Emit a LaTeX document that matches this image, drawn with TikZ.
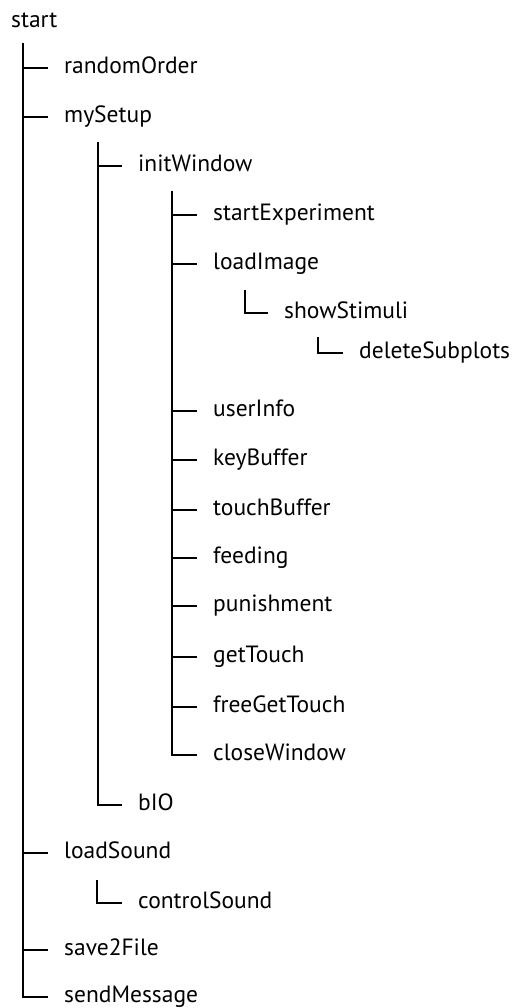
\documentclass[tikz,border=0pt]{standalone}
\usepackage{fontspec}
\setmainfont{PT Sans}
\begin{document}
\begin{tikzpicture}[x=1pt,y=-1pt,
  item/.style={anchor=west,inner xsep=16pt,inner ysep=0pt,text height=11.8pt,text depth=0pt,font=\fontsize{23.5}{27}\selectfont},
  tree/.style={line width=2.4pt,line cap=butt,line join=miter}]
\useasboundingbox[fill=white] (0,0) rectangle (512,1008);
% nodes
\node[item] (start) at (-5,22) {start};
\node[item] (randomOrder) at (48,68) {randomOrder};
\node[item] (mySetup) at (48,117) {mySetup};
\node[item] (initWindow) at (122,166) {initWindow};
\node[item] (startExperiment) at (197,215) {startExperiment};
\node[item] (loadImage) at (197,264) {loadImage};
\node[item] (showStimuli) at (268,313) {showStimuli};
\node[item] (deleteSubplots) at (343,353) {deleteSubplots};
\node[item] (userInfo) at (197,411) {userInfo};
\node[item] (keyBuffer) at (197,460) {keyBuffer};
\node[item] (touchBuffer) at (197,510) {touchBuffer};
\node[item] (feeding) at (197,558) {feeding};
\node[item] (punishment) at (197,606) {punishment};
\node[item] (getTouch) at (197,657) {getTouch};
\node[item] (freeGetTouch) at (197,707) {freeGetTouch};
\node[item] (closeWindow) at (197,755) {closeWindow};
\node[item] (bIO) at (122,805) {bIO};
\node[item] (loadSound) at (48,853) {loadSound};
\node[item] (controlSound) at (122,903) {controlSound};
\node[item] (save2File) at (48,950) {save2File};
\node[item] (sendMessage) at (48,997) {sendMessage};
% trunk tops
\coordinate (t1) at (23,43);
\coordinate (t2) at (98,142);
\coordinate (t3) at (172,191);
\coordinate (t4) at (245,290);
\coordinate (t5) at (318,337);
\coordinate (t6) at (97,880);
% level 1
\draw[tree] (t1) |- (sendMessage.west);
\foreach \n in {randomOrder,mySetup,loadSound,save2File}
  \draw[tree] (t1 |- \n.west) -- (\n.west);
% level 2
\draw[tree] (t2) |- (bIO.west);
\draw[tree] (t2 |- initWindow.west) -- (initWindow.west);
% level 3
\draw[tree] (t3) |- (closeWindow.west);
\foreach \n in {startExperiment,loadImage,userInfo,keyBuffer,touchBuffer,feeding,punishment,getTouch,freeGetTouch}
  \draw[tree] (t3 |- \n.west) -- (\n.west);
% sub-branches
\draw[tree] (t4) |- (showStimuli.west);
\draw[tree] (t5) |- (deleteSubplots.west);
\draw[tree] (t6) |- (controlSound.west);
\end{tikzpicture}
\end{document}
